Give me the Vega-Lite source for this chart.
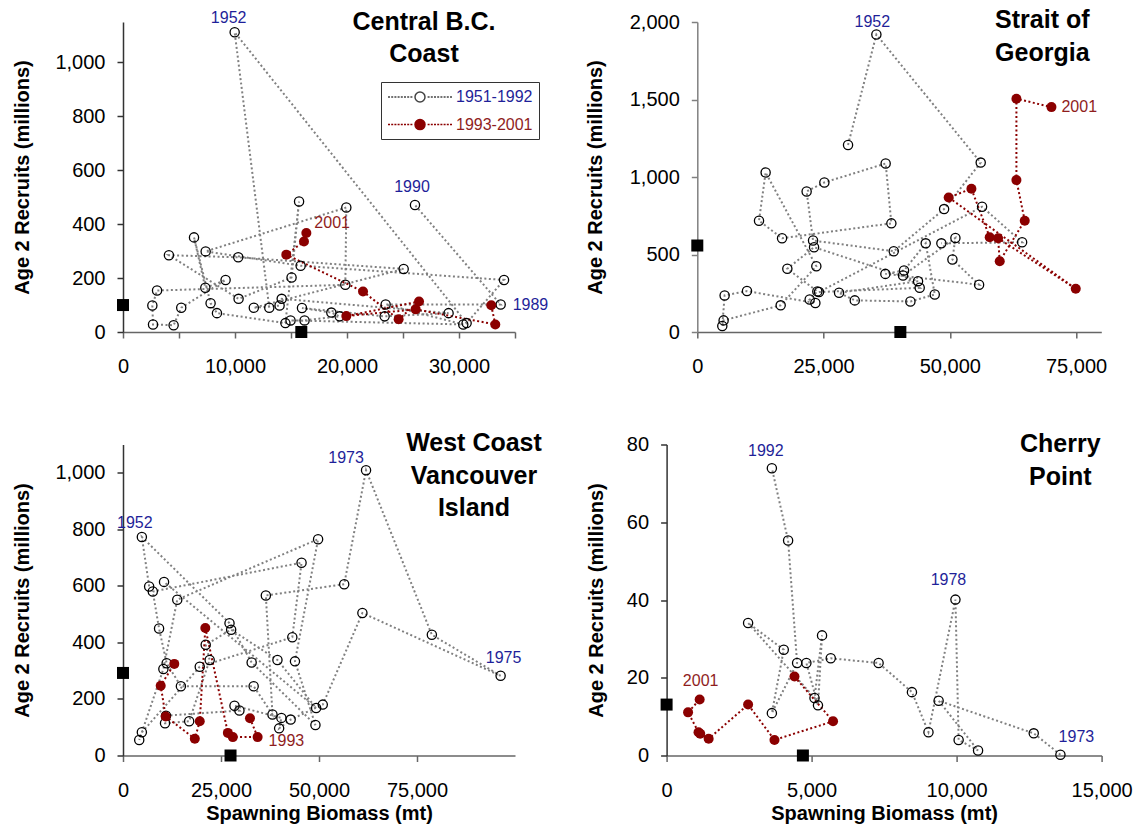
{
  "$schema": "https://vega.github.io/schema/vega-lite/v6.json",
  "background": "white",
  "padding": {"left": 12, "top": 8, "right": 5, "bottom": 5},
  "config": {
    "view": {"stroke": null},
    "font": "Liberation Sans",
    "axis": {"grid": false, "labelFont": "Liberation Sans", "labelFontSize": 20, "labelColor": "#000", "titleFont": "Liberation Sans", "titleFontSize": 20, "titleFontWeight": "bold", "titleColor": "#000", "tickSize": 6, "domainColor": "#666", "tickColor": "#666", "domainWidth": 1.5, "tickWidth": 1.5, "labelOverlap": false, "labelFlush": false, "labelBound": false, "format": ",.0f"},
    "axisX": {"labelPadding": 18.5, "titlePadding": 3},
    "axisY": {"labelPadding": 12, "titlePadding": 22},
    "title": {"font": "Liberation Sans", "fontSize": 25, "fontWeight": "bold", "color": "#000", "lineHeight": 32.5, "anchor": "middle", "frame": "group"}
  },
  "datasets": {
    "cbc": [
      {"yr": 1951, "biomass": 13060, "recruits": 90, "period": "1951-1992"},
      {"yr": 1952, "biomass": 9970, "recruits": 1112, "period": "1951-1992"},
      {"yr": 1953, "biomass": 30680, "recruits": 33, "period": "1951-1992"},
      {"yr": 1954, "biomass": 34020, "recruits": 193, "period": "1951-1992"},
      {"yr": 1955, "biomass": 15860, "recruits": 246, "period": "1951-1992"},
      {"yr": 1956, "biomass": 7380, "recruits": 299, "period": "1951-1992"},
      {"yr": 1957, "biomass": 19940, "recruits": 462, "period": "1951-1992"},
      {"yr": 1958, "biomass": 19850, "recruits": 175, "period": "1951-1992"},
      {"yr": 1959, "biomass": 3040, "recruits": 154, "period": "1951-1992"},
      {"yr": 1960, "biomass": 2620, "recruits": 98, "period": "1951-1992"},
      {"yr": 1961, "biomass": 2680, "recruits": 28, "period": "1951-1992"},
      {"yr": 1962, "biomass": 4520, "recruits": 25, "period": "1951-1992"},
      {"yr": 1963, "biomass": 5200, "recruits": 90, "period": "1951-1992"},
      {"yr": 1964, "biomass": 9160, "recruits": 193, "period": "1951-1992"},
      {"yr": 1965, "biomass": 7350, "recruits": 164, "period": "1951-1992"},
      {"yr": 1966, "biomass": 6340, "recruits": 351, "period": "1951-1992"},
      {"yr": 1967, "biomass": 7820, "recruits": 107, "period": "1951-1992"},
      {"yr": 1968, "biomass": 8390, "recruits": 70, "period": "1951-1992"},
      {"yr": 1969, "biomass": 14500, "recruits": 33, "period": "1951-1992"},
      {"yr": 1970, "biomass": 15720, "recruits": 484, "period": "1951-1992"},
      {"yr": 1971, "biomass": 15050, "recruits": 202, "period": "1951-1992"},
      {"yr": 1972, "biomass": 10320, "recruits": 123, "period": "1951-1992"},
      {"yr": 1973, "biomass": 4100, "recruits": 285, "period": "1951-1992"},
      {"yr": 1974, "biomass": 10290, "recruits": 277, "period": "1951-1992"},
      {"yr": 1975, "biomass": 25060, "recruits": 234, "period": "1951-1992"},
      {"yr": 1976, "biomass": 11680, "recruits": 90, "period": "1951-1992"},
      {"yr": 1977, "biomass": 13980, "recruits": 98, "period": "1951-1992"},
      {"yr": 1978, "biomass": 14170, "recruits": 123, "period": "1951-1992"},
      {"yr": 1979, "biomass": 29070, "recruits": 70, "period": "1951-1992"},
      {"yr": 1980, "biomass": 23360, "recruits": 58, "period": "1951-1992"},
      {"yr": 1981, "biomass": 15980, "recruits": 89, "period": "1951-1992"},
      {"yr": 1982, "biomass": 18600, "recruits": 72, "period": "1951-1992"},
      {"yr": 1983, "biomass": 19340, "recruits": 58, "period": "1951-1992"},
      {"yr": 1984, "biomass": 16210, "recruits": 43, "period": "1951-1992"},
      {"yr": 1985, "biomass": 14960, "recruits": 43, "period": "1951-1992"},
      {"yr": 1986, "biomass": 30380, "recruits": 28, "period": "1951-1992"},
      {"yr": 1987, "biomass": 23450, "recruits": 102, "period": "1951-1992"},
      {"yr": 1989, "biomass": 33720, "recruits": 102, "period": "1951-1992"},
      {"yr": 1990, "biomass": 26070, "recruits": 471, "period": "1951-1992"},
      {"yr": 1992, "biomass": 32880, "recruits": 99, "period": "1993-2001"},
      {"yr": 1993, "biomass": 33240, "recruits": 28, "period": "1993-2001"},
      {"yr": 1994, "biomass": 26130, "recruits": 84, "period": "1993-2001"},
      {"yr": 1995, "biomass": 19940, "recruits": 59, "period": "1993-2001"},
      {"yr": 1996, "biomass": 26430, "recruits": 113, "period": "1993-2001"},
      {"yr": 1997, "biomass": 24610, "recruits": 47, "period": "1993-2001"},
      {"yr": 1998, "biomass": 21430, "recruits": 150, "period": "1993-2001"},
      {"yr": 1999, "biomass": 14580, "recruits": 287, "period": "1993-2001"},
      {"yr": 2000, "biomass": 16160, "recruits": 336, "period": "1993-2001"},
      {"yr": 2001, "biomass": 16370, "recruits": 367, "period": "1993-2001"}
    ],
    "cbc_ref": [{"biomass": 0, "recruits": 100}, {"biomass": 15920, "recruits": 0}],
    "sog": [
      {"yr": 1951, "biomass": 29850, "recruits": 1207, "period": "1951-1992"},
      {"yr": 1952, "biomass": 35460, "recruits": 1919, "period": "1951-1992"},
      {"yr": 1953, "biomass": 56120, "recruits": 1093, "period": "1951-1992"},
      {"yr": 1954, "biomass": 48870, "recruits": 793, "period": "1951-1992"},
      {"yr": 1955, "biomass": 38900, "recruits": 521, "period": "1951-1992"},
      {"yr": 1956, "biomass": 22920, "recruits": 590, "period": "1951-1992"},
      {"yr": 1957, "biomass": 21650, "recruits": 907, "period": "1951-1992"},
      {"yr": 1958, "biomass": 25160, "recruits": 965, "period": "1951-1992"},
      {"yr": 1959, "biomass": 37300, "recruits": 1087, "period": "1951-1992"},
      {"yr": 1960, "biomass": 38430, "recruits": 701, "period": "1951-1992"},
      {"yr": 1961, "biomass": 16780, "recruits": 605, "period": "1951-1992"},
      {"yr": 1962, "biomass": 12220, "recruits": 718, "period": "1951-1992"},
      {"yr": 1963, "biomass": 13530, "recruits": 1029, "period": "1951-1992"},
      {"yr": 1964, "biomass": 23570, "recruits": 424, "period": "1951-1992"},
      {"yr": 1965, "biomass": 16510, "recruits": 172, "period": "1951-1992"},
      {"yr": 1966, "biomass": 5210, "recruits": 75, "period": "1951-1992"},
      {"yr": 1967, "biomass": 4950, "recruits": 39, "period": "1951-1992"},
      {"yr": 1968, "biomass": 5410, "recruits": 236, "period": "1951-1992"},
      {"yr": 1969, "biomass": 9840, "recruits": 264, "period": "1951-1992"},
      {"yr": 1970, "biomass": 23380, "recruits": 187, "period": "1951-1992"},
      {"yr": 1971, "biomass": 22250, "recruits": 210, "period": "1951-1992"},
      {"yr": 1972, "biomass": 23770, "recruits": 262, "period": "1951-1992"},
      {"yr": 1973, "biomass": 17830, "recruits": 408, "period": "1951-1992"},
      {"yr": 1974, "biomass": 23120, "recruits": 547, "period": "1951-1992"},
      {"yr": 1975, "biomass": 43710, "recruits": 328, "period": "1951-1992"},
      {"yr": 1976, "biomass": 28070, "recruits": 253, "period": "1951-1992"},
      {"yr": 1977, "biomass": 31180, "recruits": 204, "period": "1951-1992"},
      {"yr": 1978, "biomass": 42200, "recruits": 197, "period": "1951-1992"},
      {"yr": 1979, "biomass": 47020, "recruits": 242, "period": "1951-1992"},
      {"yr": 1980, "biomass": 45230, "recruits": 572, "period": "1951-1992"},
      {"yr": 1981, "biomass": 40940, "recruits": 397, "period": "1951-1992"},
      {"yr": 1982, "biomass": 37240, "recruits": 375, "period": "1951-1992"},
      {"yr": 1983, "biomass": 55800, "recruits": 305, "period": "1951-1992"},
      {"yr": 1984, "biomass": 50520, "recruits": 468, "period": "1951-1992"},
      {"yr": 1985, "biomass": 51110, "recruits": 607, "period": "1951-1992"},
      {"yr": 1986, "biomass": 40740, "recruits": 365, "period": "1951-1992"},
      {"yr": 1987, "biomass": 44040, "recruits": 285, "period": "1951-1992"},
      {"yr": 1988, "biomass": 24100, "recruits": 258, "period": "1951-1992"},
      {"yr": 1989, "biomass": 56390, "recruits": 808, "period": "1951-1992"},
      {"yr": 1990, "biomass": 64320, "recruits": 579, "period": "1951-1992"},
      {"yr": 1991, "biomass": 48330, "recruits": 572, "period": "1951-1992"},
      {"yr": 1992, "biomass": 57900, "recruits": 611, "period": "1993-2001"},
      {"yr": 1993, "biomass": 54280, "recruits": 924, "period": "1993-2001"},
      {"yr": 1994, "biomass": 49780, "recruits": 868, "period": "1993-2001"},
      {"yr": 1995, "biomass": 74940, "recruits": 279, "period": "1993-2001"},
      {"yr": 1996, "biomass": 59560, "recruits": 605, "period": "1993-2001"},
      {"yr": 1997, "biomass": 59890, "recruits": 457, "period": "1993-2001"},
      {"yr": 1998, "biomass": 64840, "recruits": 718, "period": "1993-2001"},
      {"yr": 1999, "biomass": 63190, "recruits": 980, "period": "1993-2001"},
      {"yr": 2000, "biomass": 63190, "recruits": 1505, "period": "1993-2001"},
      {"yr": 2001, "biomass": 70130, "recruits": 1451, "period": "1993-2001"}
    ],
    "sog_ref": [{"biomass": 0, "recruits": 558}, {"biomass": 40210, "recruits": 0}],
    "wcvi": [
      {"yr": 1951, "biomass": 6670, "recruits": 598, "period": "1951-1992"},
      {"yr": 1952, "biomass": 4810, "recruits": 773, "period": "1951-1992"},
      {"yr": 1953, "biomass": 27170, "recruits": 468, "period": "1951-1992"},
      {"yr": 1954, "biomass": 32820, "recruits": 329, "period": "1951-1992"},
      {"yr": 1955, "biomass": 49090, "recruits": 108, "period": "1951-1992"},
      {"yr": 1956, "biomass": 43870, "recruits": 333, "period": "1951-1992"},
      {"yr": 1957, "biomass": 49770, "recruits": 765, "period": "1951-1992"},
      {"yr": 1958, "biomass": 13840, "recruits": 551, "period": "1951-1992"},
      {"yr": 1959, "biomass": 10300, "recruits": 306, "period": "1951-1992"},
      {"yr": 1960, "biomass": 4140, "recruits": 55, "period": "1951-1992"},
      {"yr": 1961, "biomass": 4810, "recruits": 82, "period": "1951-1992"},
      {"yr": 1962, "biomass": 19580, "recruits": 314, "period": "1951-1992"},
      {"yr": 1963, "biomass": 43190, "recruits": 418, "period": "1951-1992"},
      {"yr": 1964, "biomass": 45550, "recruits": 682, "period": "1951-1992"},
      {"yr": 1965, "biomass": 7600, "recruits": 580, "period": "1951-1992"},
      {"yr": 1966, "biomass": 9200, "recruits": 449, "period": "1951-1992"},
      {"yr": 1967, "biomass": 11140, "recruits": 326, "period": "1951-1992"},
      {"yr": 1968, "biomass": 14770, "recruits": 245, "period": "1951-1992"},
      {"yr": 1969, "biomass": 33330, "recruits": 245, "period": "1951-1992"},
      {"yr": 1970, "biomass": 38130, "recruits": 145, "period": "1951-1992"},
      {"yr": 1971, "biomass": 36440, "recruits": 566, "period": "1951-1992"},
      {"yr": 1972, "biomass": 56430, "recruits": 606, "period": "1951-1992"},
      {"yr": 1973, "biomass": 62000, "recruits": 1009, "period": "1951-1992"},
      {"yr": 1974, "biomass": 78790, "recruits": 427, "period": "1951-1992"},
      {"yr": 1975, "biomass": 96330, "recruits": 282, "period": "1951-1992"},
      {"yr": 1976, "biomass": 61070, "recruits": 504, "period": "1951-1992"},
      {"yr": 1977, "biomass": 50960, "recruits": 180, "period": "1951-1992"},
      {"yr": 1978, "biomass": 42770, "recruits": 127, "period": "1951-1992"},
      {"yr": 1979, "biomass": 39830, "recruits": 96, "period": "1951-1992"},
      {"yr": 1980, "biomass": 40410, "recruits": 133, "period": "1951-1992"},
      {"yr": 1981, "biomass": 28440, "recruits": 176, "period": "1951-1992"},
      {"yr": 1982, "biomass": 29700, "recruits": 159, "period": "1951-1992"},
      {"yr": 1983, "biomass": 10970, "recruits": 141, "period": "1951-1992"},
      {"yr": 1984, "biomass": 10720, "recruits": 114, "period": "1951-1992"},
      {"yr": 1985, "biomass": 16880, "recruits": 121, "period": "1951-1992"},
      {"yr": 1986, "biomass": 22110, "recruits": 338, "period": "1951-1992"},
      {"yr": 1987, "biomass": 21100, "recruits": 392, "period": "1951-1992"},
      {"yr": 1988, "biomass": 27590, "recruits": 445, "period": "1951-1992"},
      {"yr": 1989, "biomass": 39400, "recruits": 338, "period": "1951-1992"},
      {"yr": 1990, "biomass": 49270, "recruits": 168, "period": "1951-1992"},
      {"yr": 1991, "biomass": 10470, "recruits": 614, "period": "1951-1992"},
      {"yr": 1992, "biomass": 32390, "recruits": 132, "period": "1993-2001"},
      {"yr": 1993, "biomass": 34340, "recruits": 65, "period": "1993-2001"},
      {"yr": 1994, "biomass": 28010, "recruits": 65, "period": "1993-2001"},
      {"yr": 1995, "biomass": 26750, "recruits": 80, "period": "1993-2001"},
      {"yr": 1996, "biomass": 21000, "recruits": 451, "period": "1993-2001"},
      {"yr": 1997, "biomass": 19580, "recruits": 121, "period": "1993-2001"},
      {"yr": 1998, "biomass": 18320, "recruits": 59, "period": "1993-2001"},
      {"yr": 1999, "biomass": 10880, "recruits": 138, "period": "1993-2001"},
      {"yr": 2000, "biomass": 9620, "recruits": 247, "period": "1993-2001"},
      {"yr": 2001, "biomass": 13080, "recruits": 324, "period": "1993-2001"}
    ],
    "wcvi_ref": [{"biomass": 0, "recruits": 292}, {"biomass": 27430, "recruits": 0}],
    "cp": [
      {"yr": 1973, "biomass": 13580, "recruits": 0.2, "period": "1951-1992"},
      {"yr": 1974, "biomass": 12660, "recruits": 5.7, "period": "1951-1992"},
      {"yr": 1975, "biomass": 9380, "recruits": 14.1, "period": "1951-1992"},
      {"yr": 1976, "biomass": 10740, "recruits": 1.3, "period": "1951-1992"},
      {"yr": 1977, "biomass": 10070, "recruits": 4.0, "period": "1951-1992"},
      {"yr": 1978, "biomass": 9960, "recruits": 40.1, "period": "1951-1992"},
      {"yr": 1979, "biomass": 9030, "recruits": 6.0, "period": "1951-1992"},
      {"yr": 1980, "biomass": 8460, "recruits": 16.3, "period": "1951-1992"},
      {"yr": 1981, "biomass": 7310, "recruits": 23.8, "period": "1951-1992"},
      {"yr": 1982, "biomass": 5660, "recruits": 25.0, "period": "1951-1992"},
      {"yr": 1983, "biomass": 4820, "recruits": 23.8, "period": "1951-1992"},
      {"yr": 1984, "biomass": 5220, "recruits": 12.9, "period": "1951-1992"},
      {"yr": 1985, "biomass": 5360, "recruits": 30.9, "period": "1951-1992"},
      {"yr": 1986, "biomass": 5100, "recruits": 14.8, "period": "1951-1992"},
      {"yr": 1987, "biomass": 2810, "recruits": 34.1, "period": "1951-1992"},
      {"yr": 1988, "biomass": 4040, "recruits": 27.2, "period": "1951-1992"},
      {"yr": 1989, "biomass": 3630, "recruits": 10.9, "period": "1951-1992"},
      {"yr": 1990, "biomass": 4500, "recruits": 23.8, "period": "1951-1992"},
      {"yr": 1991, "biomass": 4190, "recruits": 55.3, "period": "1951-1992"},
      {"yr": 1992, "biomass": 3630, "recruits": 73.9, "period": "1951-1992"},
      {"yr": 1993, "biomass": 4410, "recruits": 20.3, "period": "1993-2001"},
      {"yr": 1994, "biomass": 5740, "recruits": 8.8, "period": "1993-2001"},
      {"yr": 1995, "biomass": 3720, "recruits": 4.0, "period": "1993-2001"},
      {"yr": 1996, "biomass": 2810, "recruits": 13.1, "period": "1993-2001"},
      {"yr": 1997, "biomass": 1450, "recruits": 4.3, "period": "1993-2001"},
      {"yr": 1998, "biomass": 1160, "recruits": 5.6, "period": "1993-2001"},
      {"yr": 1999, "biomass": 1100, "recruits": 6.0, "period": "1993-2001"},
      {"yr": 2000, "biomass": 740, "recruits": 11.1, "period": "1993-2001"},
      {"yr": 2001, "biomass": 1140, "recruits": 14.4, "period": "1993-2001"}
    ],
    "cp_ref": [{"biomass": 0, "recruits": 13.1}, {"biomass": 4700, "recruits": 0}]
  },
  "spacing": 53.5,
  "vconcat": [
    {
      "hconcat": [
        {
          "width": 392, "height": 310,
          "title": {"text": ["Central B.C.", "Coast"], "dx": 105, "offset": -57},
          "data": {"name": "cbc"},
          "encoding": {
            "x": {"field": "biomass", "type": "quantitative", "scale": {"domain": [0, 35000], "nice": false}, "axis": {"title": null, "values": [0, 5000, 10000, 15000, 20000, 25000, 30000, 35000], "labelExpr": "datum.value % 10000 === 0 ? datum.label : ''"}},
            "y": {"field": "recruits", "type": "quantitative", "scale": {"domain": [0, 1150], "nice": false}, "axis": {"title": "Age 2 Recruits (millions)", "values": [0, 200, 400, 600, 800, 1000], "domainColor": "#333", "tickColor": "#333"}}
          },
          "layer": [
            {"transform": [{"filter": "datum.period === '1951-1992'"}], "mark": {"type": "line", "color": "#808080", "strokeWidth": 2, "strokeDash": [2, 2.5], "strokeCap": "butt"}, "encoding": {"order": {"field": "yr", "type": "quantitative"}}},
            {"transform": [{"filter": "datum.period === '1993-2001'"}], "mark": {"type": "line", "color": "#8b0000", "strokeWidth": 2, "strokeDash": [2, 2.5], "strokeCap": "butt"}, "encoding": {"order": {"field": "yr", "type": "quantitative"}}},
            {"transform": [{"filter": "datum.period === '1951-1992'"}], "mark": {"type": "point", "shape": "circle", "filled": false, "color": "#000", "strokeWidth": 1.3, "size": 85, "opacity": 1}},
            {"transform": [{"filter": "datum.period === '1993-2001'"}], "mark": {"type": "point", "shape": "circle", "filled": true, "size": 100, "opacity": 1, "strokeWidth": 0},
             "encoding": {"color": {"field": "period", "type": "nominal", "scale": {"domain": ["1951-1992", "1993-2001"], "range": ["transparent", "#8b0000"]},
               "legend": {"orient": "none", "legendX": 258, "legendY": 60, "title": null,
                 "symbolType": "M-1,0H-0.75M-0.6,0H-0.35M-0.2,0H0.05M0.2,0H0.45M0.6,0H0.85M1,0H1.25M1.4,0H1.65M1.8,0H2.05M3.95,0H4.2M4.35,0H4.6M4.75,0H5M5.15,0H5.4M5.55,0H5.8M5.95,0H6.2M6.35,0H6.6M6.75,0H7M2.375,0A0.625,0.625,0,1,1,3.625,0A0.625,0.625,0,1,1,2.375,0Z",
                 "symbolSize": 256, "symbolStrokeWidth": 1.5, "symbolOpacity": 1,
                 "symbolStrokeColor": {"expr": "datum.value === '1993-2001' ? '#8b0000' : '#444444'"},
                 "labelColor": {"expr": "datum.value === '1993-2001' ? '#8f1d1d' : '#1f1f99'"},
                 "labelFont": "Liberation Sans", "labelFontSize": 16, "labelOffset": 51,
                 "strokeColor": "#333", "fillColor": "#ffffff", "padding": 6, "rowPadding": 10.6}}}},
            {"data": {"name": "cbc_ref"}, "mark": {"type": "square", "color": "#000", "size": 144, "opacity": 1, "filled": true}},
            {"transform": [{"filter": "datum.yr === 1952"}], "mark": {"type": "text", "fontSize": 16, "color": "#1f1f99", "dx": -6, "dy": -14, "align": "center", "baseline": "middle"}, "encoding": {"text": {"field": "yr", "type": "nominal"}}},
            {"transform": [{"filter": "datum.yr === 1990"}], "mark": {"type": "text", "fontSize": 16, "color": "#1f1f99", "dx": -3, "dy": -18, "align": "center", "baseline": "middle"}, "encoding": {"text": {"field": "yr", "type": "nominal"}}},
            {"transform": [{"filter": "datum.yr === 1989"}], "mark": {"type": "text", "fontSize": 16, "color": "#1f1f99", "dx": 12, "dy": 0, "align": "left", "baseline": "middle"}, "encoding": {"text": {"field": "yr", "type": "nominal"}}},
            {"transform": [{"filter": "datum.yr === 2001"}], "mark": {"type": "text", "fontSize": 16, "color": "#8f1d1d", "dx": 8, "dy": -10, "align": "left", "baseline": "middle"}, "encoding": {"text": {"field": "yr", "type": "nominal"}}}
          ]
        },
        {
          "width": 404, "height": 310,
          "title": {"text": ["Strait of", "Georgia"], "dx": 143, "offset": -53.8},
          "data": {"name": "sog"},
          "encoding": {
            "x": {"field": "biomass", "type": "quantitative", "scale": {"domain": [0, 80000], "nice": false}, "axis": {"title": null, "values": [0, 25000, 50000, 75000]}},
            "y": {"field": "recruits", "type": "quantitative", "scale": {"domain": [0, 2000], "nice": false}, "axis": {"title": "Age 2 Recruits (millions)", "values": [0, 500, 1000, 1500, 2000], "titlePadding": 24, "domainColor": "#808080", "tickColor": "#808080"}}
          },
          "layer": [
            {"transform": [{"filter": "datum.period === '1951-1992'"}], "mark": {"type": "line", "color": "#808080", "strokeWidth": 2, "strokeDash": [2, 2.5], "strokeCap": "butt"}, "encoding": {"order": {"field": "yr", "type": "quantitative"}}},
            {"transform": [{"filter": "datum.period === '1993-2001'"}], "mark": {"type": "line", "color": "#8b0000", "strokeWidth": 2, "strokeDash": [2, 2.5], "strokeCap": "butt"}, "encoding": {"order": {"field": "yr", "type": "quantitative"}}},
            {"transform": [{"filter": "datum.period === '1951-1992'"}], "mark": {"type": "point", "shape": "circle", "filled": false, "color": "#000", "strokeWidth": 1.3, "size": 85, "opacity": 1}},
            {"transform": [{"filter": "datum.period === '1993-2001'"}], "mark": {"type": "point", "shape": "circle", "filled": true, "color": "#8b0000", "size": 100, "opacity": 1, "strokeWidth": 0}},
            {"data": {"name": "sog_ref"}, "mark": {"type": "square", "color": "#000", "size": 144, "opacity": 1, "filled": true}},
            {"transform": [{"filter": "datum.yr === 1952"}], "mark": {"type": "text", "fontSize": 16, "color": "#1f1f99", "dx": -4, "dy": -13, "align": "center", "baseline": "middle"}, "encoding": {"text": {"field": "yr", "type": "nominal"}}},
            {"transform": [{"filter": "datum.yr === 2001"}], "mark": {"type": "text", "fontSize": 16, "color": "#8f1d1d", "dx": 10, "dy": 0, "align": "left", "baseline": "middle"}, "encoding": {"text": {"field": "yr", "type": "nominal"}}}
          ]
        }
      ],
      "spacing": 182.3,
      "bounds": "flush"
    },
    {
      "hconcat": [
        {
          "width": 392, "height": 311,
          "title": {"text": ["West Coast", "Vancouver", "Island"], "dx": 155, "offset": -76.5},
          "data": {"name": "wcvi"},
          "encoding": {
            "x": {"field": "biomass", "type": "quantitative", "scale": {"domain": [0, 100000], "nice": false}, "axis": {"title": "Spawning Biomass (mt)", "values": [0, 25000, 50000, 75000]}},
            "y": {"field": "recruits", "type": "quantitative", "scale": {"domain": [0, 1100], "nice": false}, "axis": {"title": "Age 2 Recruits (millions)", "values": [0, 200, 400, 600, 800, 1000], "domainColor": "#333", "tickColor": "#333"}}
          },
          "layer": [
            {"transform": [{"filter": "datum.period === '1951-1992'"}], "mark": {"type": "line", "color": "#808080", "strokeWidth": 2, "strokeDash": [2, 2.5], "strokeCap": "butt"}, "encoding": {"order": {"field": "yr", "type": "quantitative"}}},
            {"transform": [{"filter": "datum.period === '1993-2001'"}], "mark": {"type": "line", "color": "#8b0000", "strokeWidth": 2, "strokeDash": [2, 2.5], "strokeCap": "butt"}, "encoding": {"order": {"field": "yr", "type": "quantitative"}}},
            {"transform": [{"filter": "datum.period === '1951-1992'"}], "mark": {"type": "point", "shape": "circle", "filled": false, "color": "#000", "strokeWidth": 1.3, "size": 85, "opacity": 1}},
            {"transform": [{"filter": "datum.period === '1993-2001'"}], "mark": {"type": "point", "shape": "circle", "filled": true, "color": "#8b0000", "size": 100, "opacity": 1, "strokeWidth": 0}},
            {"data": {"name": "wcvi_ref"}, "mark": {"type": "square", "color": "#000", "size": 144, "opacity": 1, "filled": true}},
            {"transform": [{"filter": "datum.yr === 1952"}], "mark": {"type": "text", "fontSize": 16, "color": "#1f1f99", "dx": -7, "dy": -14, "align": "center", "baseline": "middle"}, "encoding": {"text": {"field": "yr", "type": "nominal"}}},
            {"transform": [{"filter": "datum.yr === 1973"}], "mark": {"type": "text", "fontSize": 16, "color": "#1f1f99", "dx": -20, "dy": -12, "align": "center", "baseline": "middle"}, "encoding": {"text": {"field": "yr", "type": "nominal"}}},
            {"transform": [{"filter": "datum.yr === 1975"}], "mark": {"type": "text", "fontSize": 16, "color": "#1f1f99", "dx": 3, "dy": -18, "align": "center", "baseline": "middle"}, "encoding": {"text": {"field": "yr", "type": "nominal"}}},
            {"transform": [{"filter": "datum.yr === 1993"}], "mark": {"type": "text", "fontSize": 16, "color": "#8f1d1d", "dx": 11, "dy": 4, "align": "left", "baseline": "middle"}, "encoding": {"text": {"field": "yr", "type": "nominal"}}}
          ]
        },
        {
          "width": 435, "height": 311,
          "title": {"text": ["Cherry", "Point"], "dx": 176.2, "offset": -55},
          "data": {"name": "cp"},
          "encoding": {
            "x": {"field": "biomass", "type": "quantitative", "scale": {"domain": [0, 15000], "nice": false}, "axis": {"title": "Spawning Biomass (mt)", "values": [0, 5000, 10000, 15000]}},
            "y": {"field": "recruits", "type": "quantitative", "scale": {"domain": [0, 80], "nice": false}, "axis": {"title": "Age 2 Recruits (millions)", "values": [0, 20, 40, 60, 80], "titlePadding": 20, "domainColor": "#333", "tickColor": "#333"}}
          },
          "layer": [
            {"transform": [{"filter": "datum.period === '1951-1992'"}], "mark": {"type": "line", "color": "#808080", "strokeWidth": 2, "strokeDash": [2, 2.5], "strokeCap": "butt"}, "encoding": {"order": {"field": "yr", "type": "quantitative"}}},
            {"transform": [{"filter": "datum.period === '1993-2001'"}], "mark": {"type": "line", "color": "#8b0000", "strokeWidth": 2, "strokeDash": [2, 2.5], "strokeCap": "butt"}, "encoding": {"order": {"field": "yr", "type": "quantitative"}}},
            {"transform": [{"filter": "datum.period === '1951-1992'"}], "mark": {"type": "point", "shape": "circle", "filled": false, "color": "#000", "strokeWidth": 1.3, "size": 85, "opacity": 1}},
            {"transform": [{"filter": "datum.period === '1993-2001'"}], "mark": {"type": "point", "shape": "circle", "filled": true, "color": "#8b0000", "size": 100, "opacity": 1, "strokeWidth": 0}},
            {"data": {"name": "cp_ref"}, "mark": {"type": "square", "color": "#000", "size": 144, "opacity": 1, "filled": true}},
            {"transform": [{"filter": "datum.yr === 1992"}], "mark": {"type": "text", "fontSize": 16, "color": "#1f1f99", "dx": -6, "dy": -17, "align": "center", "baseline": "middle"}, "encoding": {"text": {"field": "yr", "type": "nominal"}}},
            {"transform": [{"filter": "datum.yr === 1978"}], "mark": {"type": "text", "fontSize": 16, "color": "#1f1f99", "dx": -7, "dy": -20, "align": "center", "baseline": "middle"}, "encoding": {"text": {"field": "yr", "type": "nominal"}}},
            {"transform": [{"filter": "datum.yr === 1973"}], "mark": {"type": "text", "fontSize": 16, "color": "#1f1f99", "dx": 16, "dy": -18, "align": "center", "baseline": "middle"}, "encoding": {"text": {"field": "yr", "type": "nominal"}}},
            {"transform": [{"filter": "datum.yr === 2001"}], "mark": {"type": "text", "fontSize": 16, "color": "#8f1d1d", "dx": 1, "dy": -19, "align": "center", "baseline": "middle"}, "encoding": {"text": {"field": "yr", "type": "nominal"}}}
          ]
        }
      ],
      "spacing": 151.6,
      "bounds": "flush"
    }
  ]
}
